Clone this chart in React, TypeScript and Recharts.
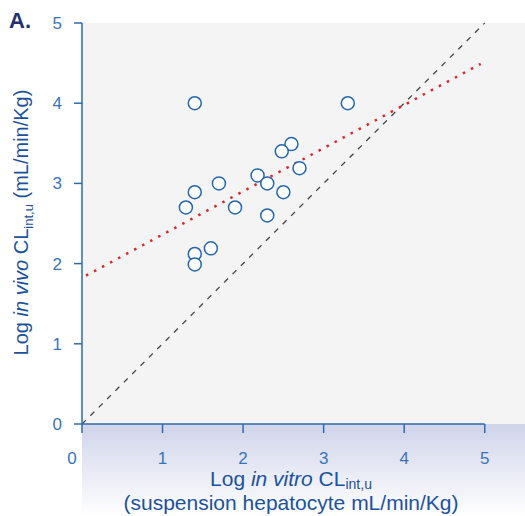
import React from 'react';
import { ScatterChart, Scatter, XAxis, YAxis, CartesianGrid, ReferenceLine } from 'recharts';

// observed compounds: log in vitro CLint,u vs log in vivo CLint,u
const inVitro = [1.4, 3.3, 2.6, 2.48, 2.7, 2.18, 2.3, 1.7, 1.4, 2.5, 1.29, 1.9, 2.3, 1.6, 1.4, 1.4];
const inVivo = [4.0, 4.0, 3.49, 3.4, 3.19, 3.1, 3.0, 3.0, 2.89, 2.89, 2.7, 2.7, 2.6, 2.19, 2.12, 1.99];

const xTicks = [0, 1, 2, 3, 4, 5];
const yTicks = [0, 1, 2, 3, 4, 5];

// line of unity and regression fit
const unityLine = [{ x: 0, y: 0 }, { x: 5, y: 5 }];
const fitLine = [{ x: 0.05, y: 1.85 }, { x: 4.95, y: 4.49 }];
const xAxisLine = [{ x: 0, y: 0 }, { x: 5, y: 0 }];

const points = inVitro.map((x, i) => ({ x, y: inVivo[i] }));

const FONT = '"Liberation Sans", Arial, Helvetica, sans-serif';
const AXIS = '#2f6aae';
const TICK_TEXT = '#3a74b8';
const TITLE = '#1d529b';

const XTick = (props: any) => {
  const { x, y, payload } = props;
  return (
    <text
      x={payload.value === 0 ? x - 10 : x}
      y={y}
      dy="0.71em"
      textAnchor="middle"
      fill={TICK_TEXT}
      fontSize={17}
      fontFamily={FONT}
    >
      {payload.value}
    </text>
  );
};

const XTitle = (props: any) => {
  const { viewBox } = props;
  const cx = viewBox.x + 209;
  return (
    <text textAnchor="middle" fill={TITLE} fontSize={21} fontFamily={FONT}>
      <tspan x={cx} y={486}>
        Log <tspan fontStyle="italic">in vitro</tspan> CL
        <tspan fontSize={14} dy={3}>int,u</tspan>
      </tspan>
      <tspan x={cx} y={510}>(suspension hepatocyte mL/min/Kg)</tspan>
    </text>
  );
};

const YTitle = (props: any) => {
  const { viewBox } = props;
  const cy = viewBox.y + viewBox.height / 2 - 1;
  return (
    <text
      transform={`translate(28, ${cy}) rotate(-90)`}
      textAnchor="middle"
      fill={TITLE}
      fontSize={20}
      fontFamily={FONT}
    >
      Log <tspan fontStyle="italic">in vivo</tspan> CL
      <tspan fontSize={13} dy={5}>int,u</tspan>
      <tspan dy={-5}> (mL/min/Kg)</tspan>
    </text>
  );
};

const Circle = (props: any) => {
  const { cx, cy } = props;
  return <circle cx={cx} cy={cy} r={6.5} fill="#ffffff" stroke="#2466ad" strokeWidth={1.5} />;
};

export default function App() {
  return (
    <div style={{ position: 'relative', width: 525, height: 516, fontFamily: FONT }}>
      <style>{'body{margin:0}'}</style>
      <div
        style={{
          position: 'absolute',
          left: 82,
          top: 424,
          width: 443,
          height: 92,
          background: 'linear-gradient(#d0d4ea, #ffffff)',
        }}
      />
      <div
        style={{
          position: 'absolute',
          left: 9,
          top: 10,
          fontSize: 22,
          lineHeight: '22px',
          fontWeight: 'bold',
          color: '#25306e',
          zIndex: 2,
        }}
      >
        A.
      </div>
      <ScatterChart width={525} height={516} margin={{ top: 23, right: 0, bottom: 0, left: 0 }}>
        <CartesianGrid horizontal={false} vertical={false} fill="#f4f4f4" />
        <XAxis
          type="number"
          dataKey="x"
          domain={[0, 5.5]}
          ticks={xTicks}
          height={92}
          axisLine={false}
          tickLine={{ stroke: AXIS, strokeWidth: 1.5 }}
          tickSize={9}
          tickMargin={19}
          tick={<XTick />}
          label={{ content: <XTitle /> }}
          allowDataOverflow
        />
        <YAxis
          type="number"
          dataKey="y"
          domain={[0, 5]}
          ticks={yTicks}
          width={82}
          axisLine={{ stroke: AXIS, strokeWidth: 1.5 }}
          tickLine={{ stroke: AXIS, strokeWidth: 1.5 }}
          tickSize={8}
          tickMargin={12}
          tick={{ fill: TICK_TEXT, fontSize: 17, fontFamily: FONT }}
          label={{ content: <YTitle /> }}
        />
        <ReferenceLine
          segment={unityLine}
          stroke="#444444"
          strokeWidth={1.3}
          strokeDasharray="5.5 6.3"
          ifOverflow="visible"
        />
        <ReferenceLine
          segment={fitLine}
          stroke="#e5232b"
          strokeWidth={2.5}
          strokeDasharray="2.5 6.6"
          ifOverflow="visible"
        />
        <ReferenceLine segment={xAxisLine} stroke={AXIS} strokeWidth={1.5} ifOverflow="visible" />
        <Scatter data={points} shape={<Circle />} isAnimationActive={false} />
      </ScatterChart>
    </div>
  );
}
